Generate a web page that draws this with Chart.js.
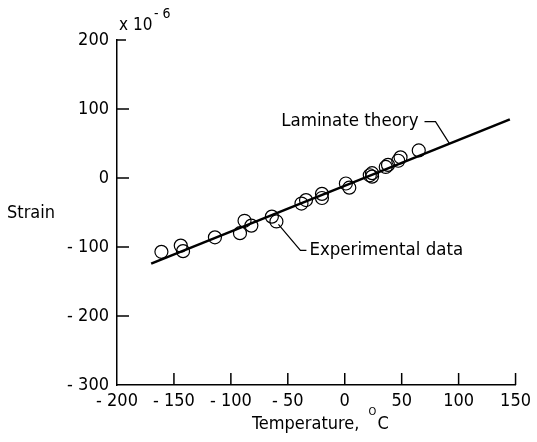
<!DOCTYPE html>
<html>
<head>
<meta charset="utf-8">
<script src="https://cdn.jsdelivr.net/npm/chart.js@4.4.0/dist/chart.umd.min.js"></script>
<style>
html, body { margin: 0; padding: 0; background: #fff; }
</style>
</head>
<body>
<canvas id="strainChart" width="537" height="442"></canvas>
<script>
// tick labels
const tempTicks = [-200, -150, -100, -50, 0, 50, 100, 150];
const strainTicks = [-300, -200, -100, 0, 100, 200];

// experimental data (temperature, strain x 10^-6)
const expTemp   = [-161, -144, -142, -114, -92, -88, -82, -64, -60, -38, -34, -20, -20, 1, 4, 22, 24, 24, 36, 38, 47, 49, 65];
const expStrain = [-107, -98, -106, -86, -80, -62, -69, -56, -63, -37, -32, -23, -29, -8, -14, 4, 7, 2, 16, 19, 25, 30, 40];

// laminate theory line
const theoryTemp = [-170, 145];
const theoryStrain = [-124, 85];

const FONT = '"DejaVu Sans Condensed", "DejaVu Sans", sans-serif';

function negLabel(v) {
	return v < 0 ? '- ' + Math.abs(v) : String(v);
}

// inward ticks, axis titles and callouts
const decorations = {
	id: 'decorations',
	afterDraw(chart) {
		const ctx = chart.ctx;
		const x = chart.scales.x;
		const y = chart.scales.y;
		const area = chart.chartArea;
		ctx.save();
		ctx.strokeStyle = '#000';
		ctx.lineWidth = 1.5;

		// ticks pointing inwards
		strainTicks.forEach(v => {
			if (v === strainTicks[0]) return;
			const py = y.getPixelForValue(v);
			const len = v === strainTicks[strainTicks.length - 1] ? 9 : 12;
			ctx.beginPath();
			ctx.moveTo(area.left, py);
			ctx.lineTo(area.left + len, py);
			ctx.stroke();
		});
		tempTicks.forEach(v => {
			if (v === tempTicks[0]) return;
			const px = x.getPixelForValue(v);
			ctx.beginPath();
			ctx.moveTo(px, area.bottom);
			ctx.lineTo(px, area.bottom - 12);
			ctx.stroke();
		});

		ctx.fillStyle = '#000';
		ctx.font = '18px ' + FONT;
		ctx.textBaseline = 'middle';

		// y title
		ctx.textAlign = 'left';
		ctx.fillText('Strain', 7, 213);

		// scale factor
		ctx.font = '17px ' + FONT;
		ctx.fillText('x 10', 119, 26);
		ctx.font = '14px ' + FONT;
		ctx.fillText('- 6', 154, 14);

		// x title
		ctx.font = '18px ' + FONT;
		ctx.fillText('Temperature,', 252, 424);
		const tw = ctx.measureText('Temperature,').width;
		ctx.font = '11px ' + FONT;
		ctx.fillText('O', 252 + tw + 9, 412);
		ctx.font = '18px ' + FONT;
		ctx.fillText('C', 252 + tw + 18, 424);

		// laminate theory callout
		ctx.font = '18.5px ' + FONT;
		const lt = 92;
		const ls = theoryStrain[0] + (lt - theoryTemp[0]) * (theoryStrain[1] - theoryStrain[0]) / (theoryTemp[1] - theoryTemp[0]);
		const ax = x.getPixelForValue(lt);
		const ay = y.getPixelForValue(ls);
		ctx.lineWidth = 1.2;
		ctx.beginPath();
		ctx.moveTo(ax, ay);
		ctx.lineTo(ax - 14, ay - 22);
		ctx.lineTo(ax - 25, ay - 22);
		ctx.stroke();
		ctx.textAlign = 'right';
		ctx.fillText('Laminate theory', ax - 31, ay - 22);

		// experimental data callout
		const bx = x.getPixelForValue(expTemp[8]) + 2;
		const by = y.getPixelForValue(expStrain[8]) + 3;
		ctx.beginPath();
		ctx.moveTo(bx, by);
		ctx.lineTo(bx + 22, by + 26);
		ctx.lineTo(bx + 28, by + 26);
		ctx.stroke();
		ctx.textAlign = 'left';
		ctx.fillText('Experimental data', bx + 31, by + 26);

		ctx.restore();
	}
};

new Chart(document.getElementById('strainChart').getContext('2d'), {
	type: 'scatter',
	data: {
		datasets: [{
			type: 'line',
			data: theoryTemp.map((t, i) => ({ x: t, y: theoryStrain[i] })),
			borderColor: '#000',
			borderWidth: 2.5,
			pointRadius: 0,
			fill: false
		}, {
			data: expTemp.map((t, i) => ({ x: t, y: expStrain[i] })),
			pointRadius: 6.5,
			pointBorderWidth: 1.2,
			borderColor: '#000',
			backgroundColor: 'rgba(0,0,0,0)'
		}]
	},
	options: {
		responsive: false,
		animation: false,
		layout: { padding: { left: 0, right: 15, top: 40, bottom: 0 } },
		plugins: { legend: { display: false }, tooltip: { enabled: false } },
		scales: {
			x: {
				type: 'linear',
				min: -200,
				max: 150,
				afterBuildTicks: s => { s.ticks = tempTicks.map(v => ({ value: v })); },
				afterFit: s => { s.height = 57; },
				grid: { display: false, drawTicks: false },
				border: { display: true, color: '#000', width: 1.5 },
				ticks: {
					color: '#000',
					padding: 6,
					maxRotation: 0,
					font: { family: FONT, size: 18 },
					callback: negLabel
				}
			},
			y: {
				type: 'linear',
				min: -300,
				max: 200,
				afterBuildTicks: s => { s.ticks = strainTicks.map(v => ({ value: v })); },
				afterFit: s => { s.width = 117; },
				grid: { display: false, drawTicks: false },
				border: { display: true, color: '#000', width: 1.5 },
				ticks: {
					color: '#000',
					padding: 8,
					font: { family: FONT, size: 18 },
					callback: negLabel
				}
			}
		}
	},
	plugins: [decorations]
});
</script>
</body>
</html>
